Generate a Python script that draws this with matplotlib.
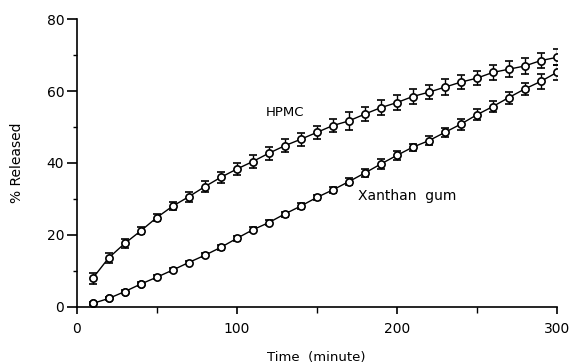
import matplotlib
matplotlib.use('Agg')
import matplotlib.pyplot as plt
import numpy as np

# sampling times (minute)
time = [10, 20, 30, 40, 50, 60, 70, 80, 90, 100,
        110, 120, 130, 140, 150, 160, 170, 180, 190, 200,
        210, 220, 230, 240, 250, 260, 270, 280, 290, 300]

# % released
hpmc = [7.9, 13.6, 17.6, 21.1, 24.8, 28.0, 30.6, 33.4, 36.0, 38.3,
        40.4, 42.7, 44.8, 46.6, 48.5, 50.4, 51.7, 53.6, 55.4, 56.8,
        58.5, 59.7, 61.1, 62.5, 63.6, 65.2, 66.1, 67.0, 68.5, 69.4]
hpmc_err = [1.6, 1.3, 1.3, 1.0, 1.0, 1.2, 1.4, 1.5, 1.6, 1.7,
            1.7, 1.8, 1.8, 1.8, 1.8, 1.8, 2.5, 2.0, 2.0, 2.0,
            2.0, 2.0, 2.3, 2.0, 2.0, 2.2, 2.2, 2.2, 2.0, 2.2]

xanthan = [0.9, 2.3, 4.2, 6.3, 8.2, 10.2, 12.3, 14.3, 16.5, 19.0,
           21.4, 23.4, 25.8, 28.0, 30.4, 32.5, 34.8, 37.2, 39.7, 42.1,
           44.4, 46.2, 48.5, 50.8, 53.4, 55.7, 58.2, 60.6, 62.7, 65.2]
xanthan_err = [0.4, 0.4, 0.4, 0.5, 0.5, 0.5, 0.5, 0.6, 0.6, 0.6,
               0.7, 0.7, 0.7, 0.8, 0.8, 0.8, 0.9, 1.0, 1.4, 1.2,
               1.0, 1.2, 1.3, 1.5, 1.5, 1.5, 1.7, 1.8, 2.0, 2.2]

n_filled = 4  # first xanthan markers look solid in the print

fig = plt.figure(figsize=(5.75, 3.64), dpi=100)
ax = fig.add_axes([0.1334, 0.1574, 0.8348, 0.7896])

style = dict(fmt='-o', color='black', lw=1.0, ms=5.2, mfc='white',
             mec='black', mew=1.2, ecolor='black', elinewidth=1.0,
             capsize=3, capthick=1.0)
ax.errorbar(time, hpmc, yerr=hpmc_err, **style)
ax.errorbar(time, xanthan, yerr=xanthan_err, **style)
ax.plot(time[:n_filled], xanthan[:n_filled], 'o', color='black', ms=5.2)

ax.text(118, 54, 'HPMC', fontsize=9.5, ha='left', va='center')
ax.text(176, 30.8, 'Xanthan  gum', fontsize=10, ha='left', va='center')

ax.set_xlim(0, 300)
ax.set_ylim(0, 80)
ax.set_xticks([0, 100, 200, 300])
ax.set_xticks([50, 150, 250], minor=True)
ax.set_yticks([0, 20, 40, 60, 80])
ax.set_yticks([10, 30, 50, 70], minor=True)

ax.spines['top'].set_visible(False)
ax.spines['right'].set_visible(False)
for s in ('left', 'bottom'):
    ax.spines[s].set_linewidth(1.2)

ax.tick_params(axis='x', which='major', length=5, width=1.2, pad=6, labelsize=10)
ax.tick_params(axis='x', which='minor', length=4, width=1.0)
ax.tick_params(axis='y', which='major', length=7, width=1.2, pad=2, labelsize=10)
ax.tick_params(axis='y', which='minor', length=3, width=1.0)

ax.set_xlabel('Time  (minute)', fontsize=9.5, labelpad=11)
ax.set_ylabel('% Released', fontsize=10, labelpad=16)

fig.savefig('out.png', dpi=100)
